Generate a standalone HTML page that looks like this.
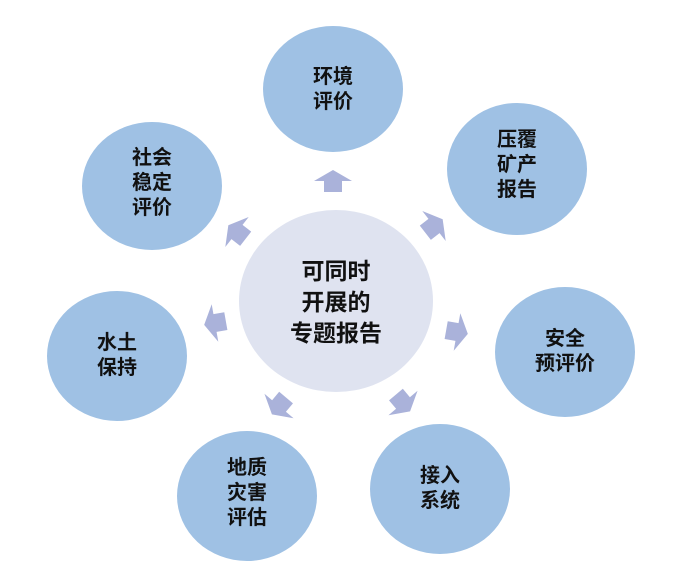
<!DOCTYPE html>
<html><head><meta charset="utf-8"><style>
html,body{margin:0;padding:0;background:#fff;}
svg{display:block}
text{font-family:"Liberation Sans","Noto Sans CJK SC",sans-serif;font-weight:bold;fill:#111;text-anchor:middle}
</style></head><body>
<svg width="687" height="586" viewBox="0 0 687 586">
<defs>
<polygon id="ar" points="-9,11 9,11 9,0 19,0 0,-11 -19,0 -9,0" fill="#aab2da"/>
</defs>
<g fill="#9fc1e4">
<ellipse cx="333" cy="89" rx="70" ry="63"/>
<ellipse cx="517" cy="169" rx="70" ry="66"/>
<ellipse cx="565" cy="352" rx="70" ry="65"/>
<ellipse cx="440" cy="489" rx="70" ry="65"/>
<ellipse cx="247" cy="496" rx="70" ry="65"/>
<ellipse cx="117" cy="356" rx="70" ry="65"/>
<ellipse cx="152" cy="186" rx="70" ry="64"/>
</g>
<ellipse cx="336" cy="301" rx="97" ry="91" fill="#dfe3f0"/>
<use href="#ar" transform="translate(333,181)"/>
<use href="#ar" transform="translate(434,226) rotate(52)"/>
<use href="#ar" transform="translate(457,332) rotate(100)"/>
<use href="#ar" transform="translate(403,403) rotate(140)"/>
<use href="#ar" transform="translate(279,406) rotate(-140)"/>
<use href="#ar" transform="translate(215,323) rotate(-100)"/>
<use href="#ar" transform="translate(237,232) rotate(-52)"/>
<g font-size="20">
<text x="333" y="83">环境</text><text x="333" y="108">评价</text>
<text x="517" y="146">压覆</text><text x="517" y="171">矿产</text><text x="517" y="196">报告</text>
<text x="565" y="345">安全</text><text x="565" y="370">预评价</text>
<text x="440" y="482">接入</text><text x="440" y="507">系统</text>
<text x="247" y="474">地质</text><text x="247" y="499">灾害</text><text x="247" y="524">评估</text>
<text x="117" y="349">水土</text><text x="117" y="374">保持</text>
<text x="152" y="164">社会</text><text x="152" y="189">稳定</text><text x="152" y="214">评价</text>
</g>
<g font-size="23">
<text x="336" y="279">可同时</text><text x="336" y="310">开展的</text><text x="336" y="341">专题报告</text>
</g>
</svg>
</body></html>
